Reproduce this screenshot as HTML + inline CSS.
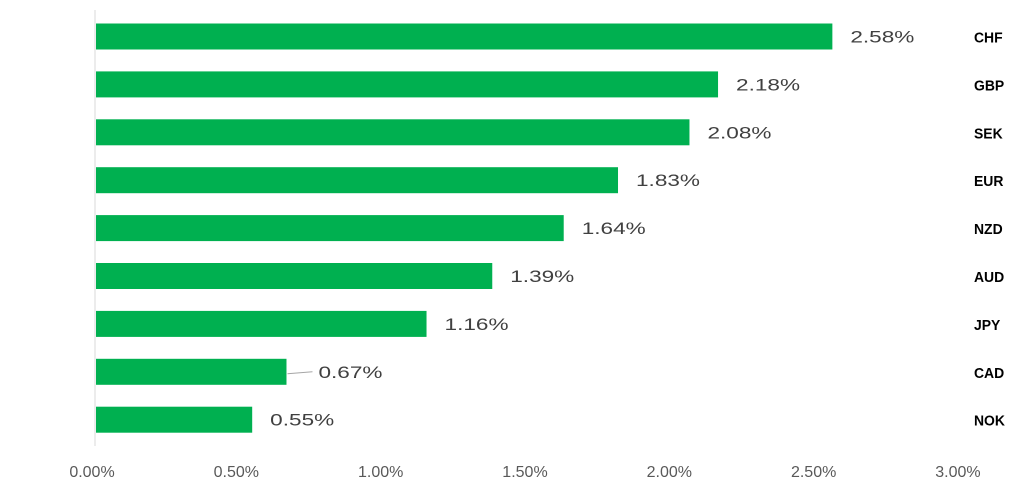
<!DOCTYPE html>
<html><head><meta charset="utf-8"><style>
html,body{margin:0;padding:0;background:#fff;}
svg{display:block;font-family:"Liberation Sans",Arial,sans-serif;}
</style></head><body>
<svg id="chart" width="1022" height="498" viewBox="0 0 1022 498"></svg>
<script>
const categories = ["CHF","GBP","SEK","EUR","NZD","AUD","JPY","CAD","NOK"];
const values = [2.58,2.18,2.08,1.83,1.64,1.39,1.16,0.67,0.55];
const tickValues = [0,0.5,1,1.5,2,2.5,3];
const tickLabels = ["0.00%","0.50%","1.00%","1.50%","2.00%","2.50%","3.00%"];

const NS="http://www.w3.org/2000/svg";
const svg=document.getElementById('chart');
const x0=95, k=285.8;
const xs=v=>x0+v*k;
const xt=v=>x0-3+v*k*1.01;
const yTop=36.5, step=47.9, barH=26;
const yc=i=>yTop+i*step;
function mk(tag,attrs,parent){const e=document.createElementNS(NS,tag);for(const a in attrs)e.setAttribute(a,attrs[a]);(parent||svg).appendChild(e);return e;}

const axis=mk('line',{x1:x0,x2:x0,y1:10,y2:446,stroke:'#d9d9d9','stroke-width':1});



tickValues.forEach((v,i)=>{
  const t=mk('text',{x:xt(v),y:477,'text-anchor':'middle','font-size':16,fill:'#595959'});
  t.textContent=tickLabels[i];
  
  
});

categories.forEach((c,i)=>{
  const y=yc(i);
  const b=mk('rect',{x:x0+1,y:y-barH/2,width:xs(values[i])-x0-1,height:barH,fill:'#00b050'});
  
  
  let lx=xs(values[i])+18;
  if(c==="CAD"){
    lx=xs(values[i])+32;
    const l=mk('line',{x1:xs(values[i])+1,y1:y+2,x2:xs(values[i])+26,y2:y,stroke:'#a6a6a6','stroke-width':1});
    
    
  }
  const vl=mk('text',{x:lx,y:y+6,'font-size':17,fill:'#404040',textLength:64,lengthAdjust:'spacingAndGlyphs'});
  vl.textContent=values[i].toFixed(2)+'%';
  
  
  const cl=mk('text',{x:974,y:y+6,'font-size':15,'font-weight':'bold',fill:'#000',transform:'translate(974 0) scale(0.93 1) translate(-974 0)'});
  cl.textContent=c;
  
  
});
</script>
</body></html>
